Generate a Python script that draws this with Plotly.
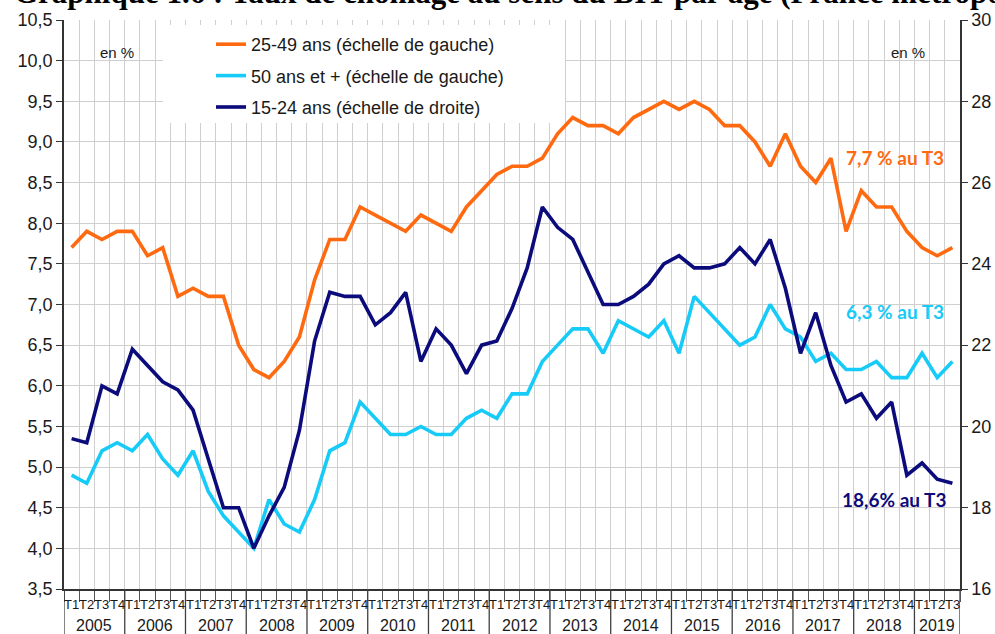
import plotly.graph_objects as go

# ---------------- data ----------------
years = [str(y) for y in range(2005, 2020)]
quarter_names = ["T1", "T2", "T3", "T4"]

# 25-49 ans (échelle de gauche), %
age_25_49 = [7.7, 7.9, 7.8, 7.9,
             7.9, 7.6, 7.7, 7.1,
             7.2, 7.1, 7.1, 6.5,
             6.2, 6.1, 6.3, 6.6,
             7.3, 7.8, 7.8, 8.2,
             8.1, 8.0, 7.9, 8.1,
             8.0, 7.9, 8.2, 8.4,
             8.6, 8.7, 8.7, 8.8,
             9.1, 9.3, 9.2, 9.2,
             9.1, 9.3, 9.4, 9.5,
             9.4, 9.5, 9.4, 9.2,
             9.2, 9.0, 8.7, 9.1,
             8.7, 8.5, 8.8, 7.9,
             8.4, 8.2, 8.2, 7.9,
             7.7, 7.6, 7.7]

# 50 ans et + (échelle de gauche), %
age_50_plus = [4.9, 4.8, 5.2, 5.3,
               5.2, 5.4, 5.1, 4.9,
               5.2, 4.7, 4.4, 4.2,
               4.0, 4.6, 4.3, 4.2,
               4.6, 5.2, 5.3, 5.8,
               5.6, 5.4, 5.4, 5.5,
               5.4, 5.4, 5.6, 5.7,
               5.6, 5.9, 5.9, 6.3,
               6.5, 6.7, 6.7, 6.4,
               6.8, 6.7, 6.6, 6.8,
               6.4, 7.1, 6.9, 6.7,
               6.5, 6.6, 7.0, 6.7,
               6.6, 6.3, 6.4, 6.2,
               6.2, 6.3, 6.1, 6.1,
               6.4, 6.1, 6.3]

# 15-24 ans (échelle de droite), %
age_15_24 = [19.7, 19.6, 21.0, 20.8,
             21.9, 21.5, 21.1, 20.9,
             20.4, 19.2, 18.0, 18.0,
             17.0, 17.8, 18.5, 19.9,
             22.1, 23.3, 23.2, 23.2,
             22.5, 22.8, 23.3, 21.6,
             22.4, 22.0, 21.3, 22.0,
             22.1, 22.9, 23.9, 25.4,
             24.9, 24.6, 23.8, 23.0,
             23.0, 23.2, 23.5, 24.0,
             24.2, 23.9, 23.9, 24.0,
             24.4, 24.0, 24.6, 23.4,
             21.8, 22.8, 21.5, 20.6,
             20.8, 20.2, 20.6, 18.8,
             19.1, 18.7, 18.6]

series_names = ["25-49 ans (échelle de gauche)",
                "50 ans et + (échelle de gauche)",
                "15-24 ans (échelle de droite)"]

# ---------------- styles ----------------
C_ORANGE = "#FF6A10"
C_LBLUE = "#17CBF8"
C_NAVY = "#0B0B7C"
TXT = "#1a1a1a"
GRID = "#CFCFCF"
FONT = "Liberation Sans, Arial, sans-serif"

n = len(age_25_49)
x_idx = list(range(n))
periods = [f"{years[i // 4]} {quarter_names[i % 4]}" for i in range(n)]

W, H = 995, 634
ML, MR, MT, MB = 64, 35, 20, 45
PW, PH = W - ML - MR, H - MT - MB


def px_x(p):
    return (p - ML) / PW


def px_y(p):
    return 1 - (p - MT) / PH


fig = go.Figure()
for vals, name, col, ax, grp in [
    (age_25_49, series_names[0], C_ORANGE, "y", "a"),
    (age_50_plus, series_names[1], C_LBLUE, "y", "b"),
    (age_15_24, series_names[2], C_NAVY, "y2", "c"),
]:
    fig.add_trace(go.Scatter(
        x=x_idx, y=vals, name=name, mode="lines", yaxis=ax,
        legendgroup=grp, customdata=periods,
        hovertemplate="%{customdata}: %{y}<extra></extra>",
        line=dict(color=col, width=3.6),
    ))

annotations = []
# quarter labels
for i in range(n):
    annotations.append(dict(
        x=i, y=0, xref="x", yref="paper", text=quarter_names[i % 4],
        showarrow=False, yanchor="middle", yshift=-15,
        font=dict(family=FONT, size=13, color=TXT)))
# year labels
for k, yr in enumerate(years):
    first = 4 * k
    last = min(4 * k + 3, n - 1)
    annotations.append(dict(
        x=(first + last) / 2, y=0, xref="x", yref="paper", text=yr,
        showarrow=False, yanchor="middle", yshift=-36,
        font=dict(family=FONT, size=16, color=TXT)))

# end-of-series labels
def fr(v):
    return f"{v:.1f}".replace(".", ",")

annotations += [
    dict(x=54.2, y=8.81, xref="x", yref="y", text=f"<b>{fr(age_25_49[-1])} % au T3</b>",
         showarrow=False, font=dict(family="Lato, sans-serif", size=19, color=C_ORANGE)),
    dict(x=54.2, y=6.91, xref="x", yref="y", text=f"<b>{fr(age_50_plus[-1])} % au T3</b>",
         showarrow=False, font=dict(family="Lato, sans-serif", size=19, color=C_LBLUE)),
    dict(x=54.2, y=4.595, xref="x", yref="y", text=f"<b>{fr(age_15_24[-1])}% au T3</b>",
         showarrow=False, font=dict(family="Lato, sans-serif", size=19, color=C_NAVY)),
    dict(x=px_x(98), y=px_y(42), xref="paper", yref="paper", text="en %",
         showarrow=False, font=dict(family=FONT, size=15, color=TXT)),
    dict(x=px_x(927), y=px_y(42), xref="paper", yref="paper", text="en %",
         showarrow=False, font=dict(family=FONT, size=15, color=TXT)),
    dict(x=px_x(12), y=1, xref="paper", yref="paper", xanchor="left", yanchor="bottom",
         yshift=8, showarrow=False,
         text="<b>Graphique 1.6 : Taux de chômage au sens du BIT par âge (France métropolitaine)</b>",
         font=dict(family="Liberation Serif, Times New Roman, serif", size=31, color="#000000")),
]

shapes = []
# white legend box (covers gridlines)
shapes.append(dict(type="rect", xref="paper", yref="paper",
                   x0=px_x(163), x1=px_x(565), y0=px_y(123), y1=px_y(25),
                   fillcolor="white", line=dict(width=0), layer="above"))
# year separators below the axis
seps = [4 * k - 0.5 for k in range(len(years))] + [n - 0.5]
for xs in seps:
    shapes.append(dict(type="line", xref="x", yref="paper", x0=xs, x1=xs,
                       y0=0, y1=-MB / PH, line=dict(color="#404040", width=1.3)))

fig.update_layout(
    template="none",
    width=W, height=H,
    margin=dict(l=ML, r=MR, t=MT, b=MB, pad=0, autoexpand=False),
    paper_bgcolor="white", plot_bgcolor="white",
    separators=", ",
    showlegend=True,
    legend=dict(x=px_x(211), y=px_y(26), xanchor="left", yanchor="top",
                bgcolor="rgba(0,0,0,0)", font=dict(family=FONT, size=18, color=TXT),
                tracegroupgap=5, itemwidth=30),
    xaxis=dict(range=[-0.5, n - 0.5], tickmode="linear", tick0=0.5, dtick=1,
               showgrid=True, gridcolor=GRID, gridwidth=1.4, automargin=False,
               showticklabels=False, ticks="outside", ticklen=11, tickcolor="#555555",
               tickwidth=1.2, showline=True, linecolor="#333333", linewidth=1.5,
               zeroline=False, fixedrange=True),
    yaxis=dict(range=[3.5, 10.5], tickmode="linear", tick0=3.5, dtick=0.5,
               tickformat=".1f", showgrid=True, gridcolor=GRID, gridwidth=1.4,
               automargin=False,
               ticks="outside", ticklen=6, tickcolor="#333333",
               showline=True, linecolor="#333333", linewidth=1.5, zeroline=False,
               tickfont=dict(family=FONT, size=18, color=TXT)),
    yaxis2=dict(range=[16, 30], tickmode="linear", tick0=16, dtick=2,
                overlaying="y", side="right", showgrid=False, automargin=False,
                ticks="outside", ticklen=6, tickcolor="#333333",
                showline=True, linecolor="#333333", linewidth=1.5, zeroline=False,
                tickfont=dict(family=FONT, size=18, color=TXT)),
    annotations=annotations,
    shapes=shapes,
)

fig.write_html("out.html", config={"displayModeBar": False},
               post_script="document.body.style.margin='0px';")
